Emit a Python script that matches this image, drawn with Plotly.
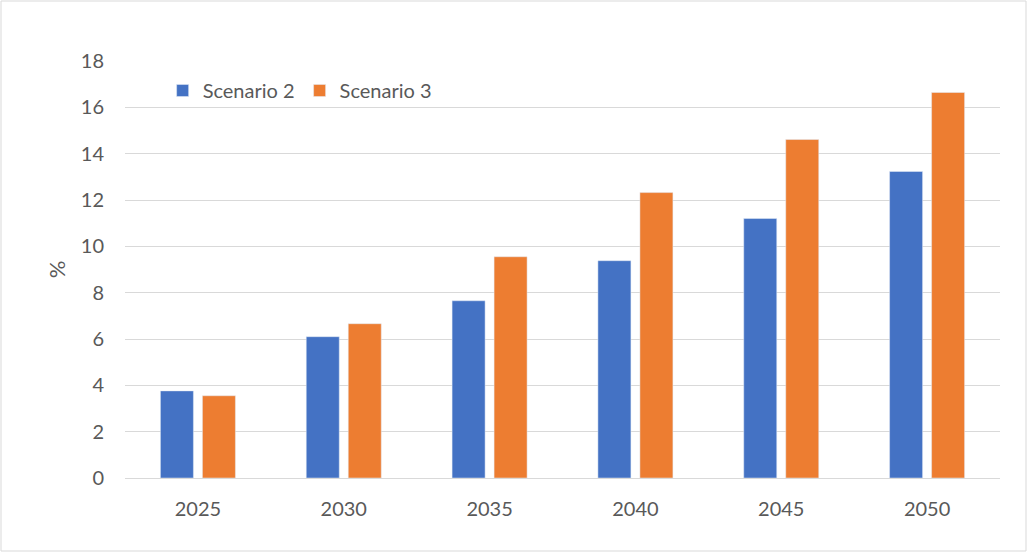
import plotly.graph_objects as go

years = ["2025", "2030", "2035", "2040", "2045", "2050"]
scenario2 = [3.76, 6.1, 7.65, 9.38, 11.2, 13.23]
scenario3 = [3.55, 6.66, 9.55, 12.32, 14.61, 16.64]

blue = "#4472C4"
orange = "#ED7D31"
grey_text = "#595959"

fig = go.Figure()
fig.add_trace(go.Bar(x=years, y=scenario2, name="Scenario 2", marker_color=blue))
fig.add_trace(go.Bar(x=years, y=scenario3, name="Scenario 3", marker_color=orange))

fig.update_layout(
    width=1027, height=552,
    margin=dict(l=125, r=27, t=61, b=74),
    paper_bgcolor="white", plot_bgcolor="white",
    barmode="group", bargap=0.424, bargroupgap=0.214,
    font=dict(family="Lato", size=20, color=grey_text),
    legend=dict(orientation="h", x=0.043, y=0.976, xanchor="left", yanchor="top",
                bgcolor="rgba(0,0,0,0)", font=dict(size=20, color=grey_text),
                itemwidth=30, tracegroupgap=0),
    showlegend=True,
)
fig.update_xaxes(showgrid=False, showline=False, ticks="", ticklabelstandoff=17,
                 tickfont=dict(size=20, color=grey_text))
fig.update_yaxes(range=[0, 18], dtick=2, showgrid=True, gridcolor="#D9D9D9", gridwidth=1,
                 zeroline=True, zerolinecolor="#D9D9D9", zerolinewidth=1,
                 showline=False, ticks="", ticklabelstandoff=20,
                 tickfont=dict(size=20, color=grey_text),
                 title=dict(text="%", font=dict(size=22, color=grey_text), standoff=9))

# chart border
fig.add_shape(type="rect", xref="paper", yref="paper",
              x0=-124/875, x1=1 + 26/875, y0=-73/417, y1=1 + 60/417,
              line=dict(color="#D9D9D9", width=1), fillcolor="rgba(0,0,0,0)", layer="below")

fig.write_html("out.html", config={"displayModeBar": False},
               post_script="document.body.style.margin='0';")
